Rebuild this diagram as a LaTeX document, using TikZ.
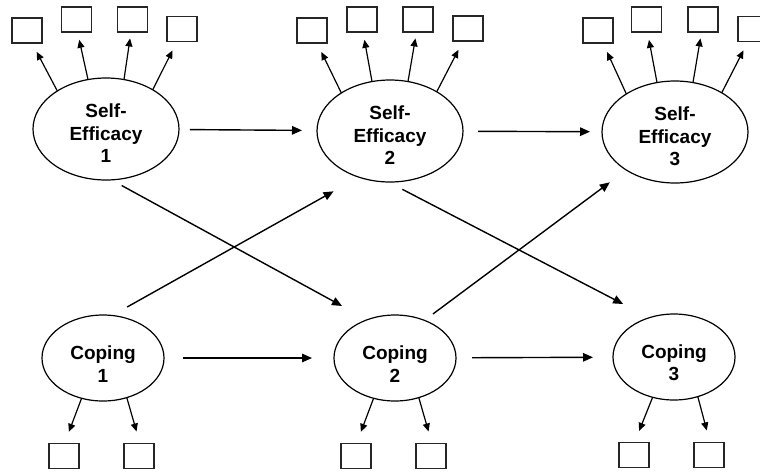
\documentclass[tikz,border=0pt]{standalone}
\usepackage{fontspec}
\setmainfont{Liberation Sans}
\usetikzlibrary{shapes.geometric,arrows.meta}
\tikzset{
  latent/.style={ellipse, draw=black, line width=1.2pt, inner sep=0pt, outer sep=0pt, align=center,
    font=\fontsize{19}{22.5}\selectfont\bfseries},
  selat/.style={latent, minimum width=146pt, minimum height=102pt},
  coplat/.style={latent, minimum width=122pt, minimum height=86pt},
  ind/.style={rectangle, draw=black!85, line width=1.2pt, minimum width=30pt, minimum height=25pt, inner sep=0pt, outer sep=0pt},
  arr/.style={line width=1.4pt, -{Triangle[length=10pt,width=8.5pt]}},
  sarr/.style={line width=1.2pt, -{Triangle[length=8pt,width=7pt]}}
}
\begin{document}
\begin{tikzpicture}[x=1pt,y=-1pt]
\useasboundingbox (0,0) rectangle (760,472);
% latent variables
\node[selat] (se1) at (106,129) {\rule{0pt}{22.6pt}Self-\\Efficacy\\1};
\node[selat] (se2) at (390,131) {\rule{0pt}{22.6pt}Self-\\Efficacy\\2};
\node[selat] (se3) at (675,132) {\rule{0pt}{22.6pt}Self-\\Efficacy\\3};
\node[coplat] (c1) at (103,358) {\rule{0pt}{25.6pt}Coping\\1};
\node[coplat] (c2) at (395,358) {\rule{0pt}{25.6pt}Coping\\2};
\node[coplat] (c3) at (674,357) {\rule{0pt}{25.6pt}Coping\\3};
% indicators
\node[ind] (se1b1) at (27,30.5) {};
\node[ind] (se1b2) at (76.5,19.5) {};
\node[ind] (se1b3) at (132.5,19.5) {};
\node[ind] (se1b4) at (182,29) {};
\node[ind] (se2b1) at (312,30.5) {};
\node[ind] (se2b2) at (362,19.5) {};
\node[ind] (se2b3) at (418,19.5) {};
\node[ind] (se2b4) at (468,28.5) {};
\node[ind] (se3b1) at (598,30.5) {};
\node[ind] (se3b2) at (646.5,19.5) {};
\node[ind] (se3b3) at (703,19.5) {};
\node[ind] (se3b4) at (753,29) {};
\node[ind] (c1b1) at (64,456) {};
\node[ind] (c1b2) at (139,456) {};
\node[ind] (c2b1) at (356,456) {};
\node[ind] (c2b2) at (431,456) {};
\node[ind] (c3b1) at (634,455) {};
\node[ind] (c3b2) at (709,455) {};
% indicator arrows
\foreach \s in {se1,se2,se3}{
  \draw[sarr, shorten >=10pt] (\s.142) -- ([xshift=5pt]\s b1.south);
  \draw[sarr, shorten >=8pt] (\s.110) -- ([xshift=1pt]\s b2.south);
  \draw[sarr, shorten >=6.5pt] (\s.70) -- ([xshift=-1.5pt]\s b3.south);
  \draw[sarr, shorten >=10pt] (\s.40) -- ([xshift=-5pt]\s b4.south);
}
\foreach \s in {c1,c2,c3}{
  \draw[sarr, shorten >=12.5pt] (\s.242) -- ([xshift=0.5pt]\s b1.north);
  \draw[sarr, shorten >=12.5pt] (\s.301) -- ([xshift=1pt]\s b2.north);
}
% structural paths
\draw[arr, shorten <=11pt, shorten >=15pt] (se1) -- (se2);
\draw[arr, shorten <=15pt, shorten >=12pt] (se2) -- (se3);
\draw[arr, shorten <=19pt, shorten >=22pt] (c1) -- (c2);
\draw[arr, shorten <=16pt, shorten >=20pt] (c2) -- (c3);
\draw[arr, shorten <=11.8pt, shorten >=28.7pt] (se1.276) -- (c2.126);
\draw[arr, shorten <=17.3pt, shorten >=29pt] (c1.78) -- (se2.236.5);
\draw[arr, shorten <=16pt, shorten >=29.6pt] (se2.268.5) -- (c3.122);
\draw[arr, shorten <=10.6pt, shorten >=20.6pt] (c2.52) -- (se3.218);
\end{tikzpicture}
\end{document}
